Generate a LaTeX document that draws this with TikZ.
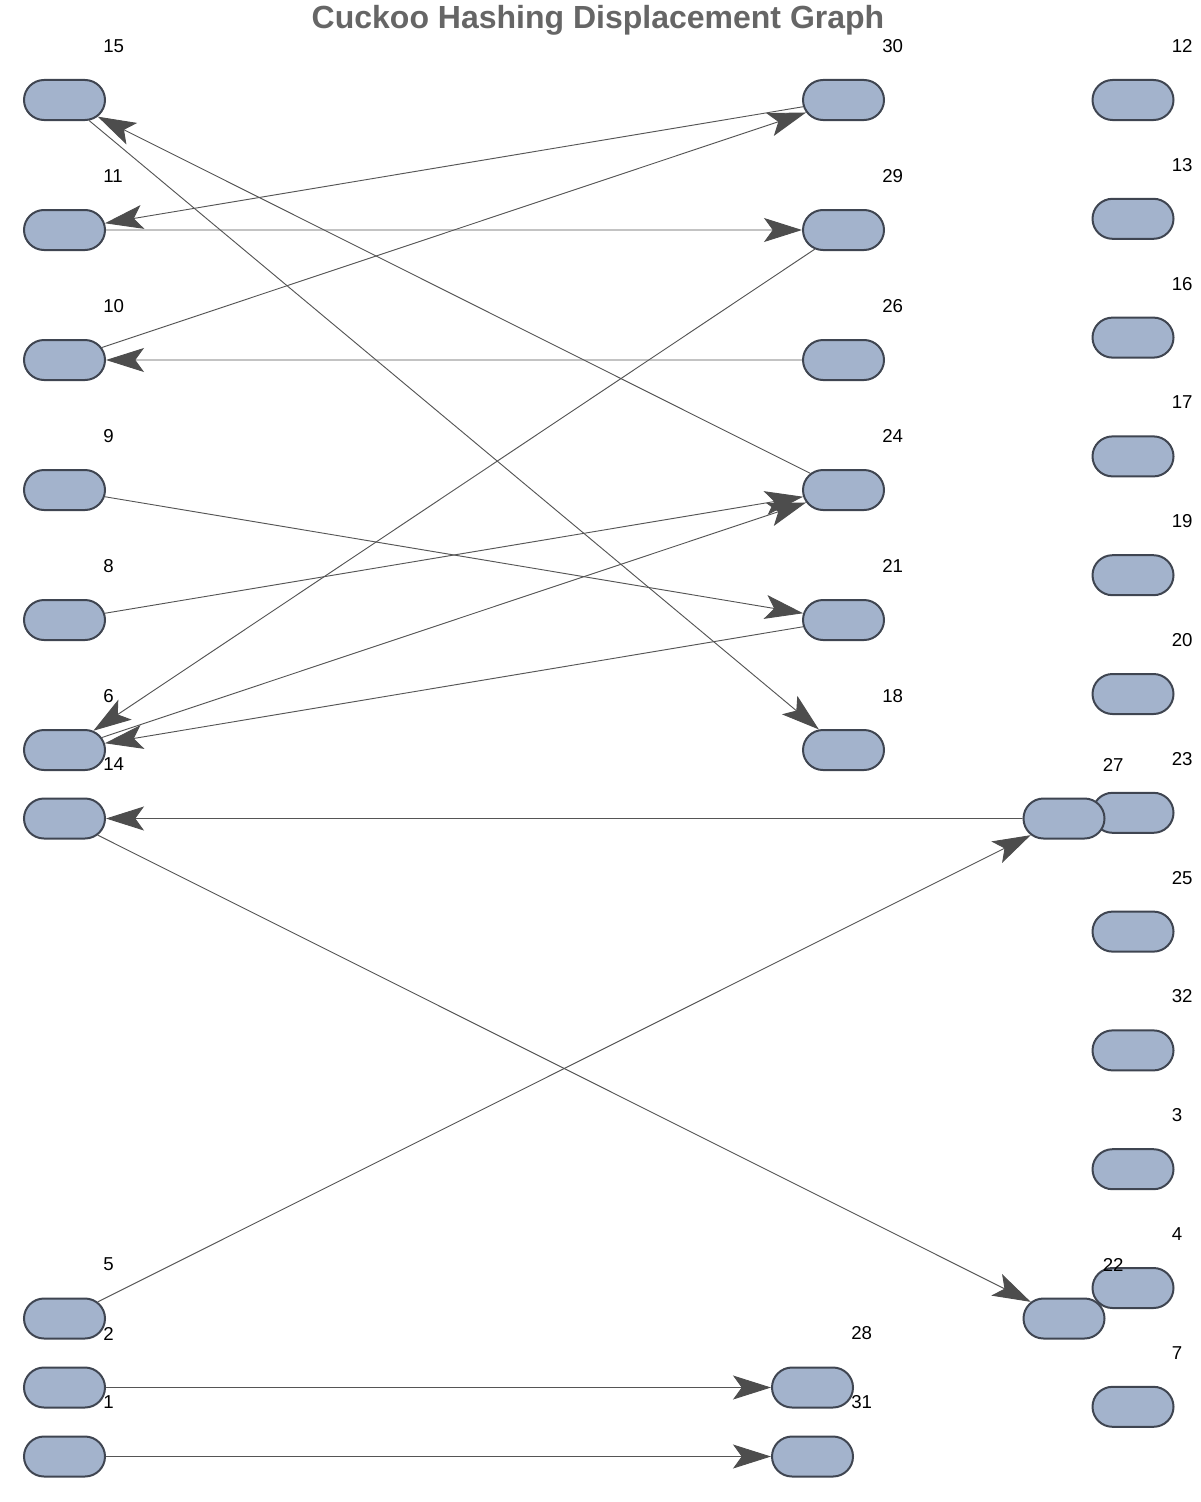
\documentclass[tikz,border=0pt]{standalone}
\usepackage{fontspec}
\setmainfont{Liberation Sans}
\usetikzlibrary{shapes.misc,arrows.meta}
\definecolor{nodefill}{HTML}{A3B3CC}
\definecolor{nodedraw}{HTML}{3F4551}
\definecolor{edgecol}{HTML}{555555}
\definecolor{tipcol}{HTML}{4D4D4D}
\definecolor{titlecol}{HTML}{666666}
\tikzset{
  vtx/.style={rounded rectangle, draw=nodedraw, fill=nodefill, line width=1.5pt,
    minimum width=60.75pt, minimum height=30pt, inner sep=0pt},
  lbl/.style={anchor=west, inner sep=0pt, font=\fontsize{14pt}{16pt}\selectfont},
  edge/.style={draw=edgecol, line width=0.7pt,
    -{Stealth[length=28.5pt, width=18pt, inset=6.5pt, fill=tipcol, color=tipcol]}},
}
\begin{document}
\begin{tikzpicture}[x=0.75pt, y=-0.75pt]
\useasboundingbox (0,0) rectangle (1200,1502);
\node[font=\bfseries\fontsize{24pt}{28pt}\selectfont, text=titlecol] (title) at (598,20) {Cuckoo Hashing Displacement Graph};
\foreach \n/\x/\y in {12/1133/100, 13/1133/218.8, 16/1133/337.6, 17/1133/456.4, 19/1133/575.2,
  20/1133/694, 23/1133/812.8, 25/1133/931.6, 32/1133/1050.4, 3/1133/1169.2, 4/1133/1288, 7/1133/1406.8,
  15/64.5/100, 11/64.5/230, 10/64.5/360, 9/64.5/490, 8/64.5/620, 6/64.5/750, 14/64.5/818.5,
  5/64.5/1318.5, 2/64.5/1387.5, 1/64.5/1456.5,
  30/843.5/100, 29/843.5/230, 26/843.5/360, 24/843.5/490, 21/843.5/620, 18/843.5/750,
  27/1064/818.5, 22/1064/1318.5, 28/812.5/1387.5, 31/812.5/1456.5}
  {\node[vtx] (n\n) at (\x,\y) {};}
\foreach \n/\x/\y in {12/1133/100, 13/1133/218.8, 16/1133/337.6, 17/1133/456.4, 19/1133/575.2,
  20/1133/694, 23/1133/812.8, 25/1133/931.6, 32/1133/1050.4, 3/1133/1169.2, 4/1133/1288, 7/1133/1406.8,
  15/64.5/100, 11/64.5/230, 10/64.5/360, 9/64.5/490, 8/64.5/620, 6/64.5/750, 14/64.5/818.5,
  5/64.5/1318.5, 2/64.5/1387.5, 1/64.5/1456.5,
  30/843.5/100, 29/843.5/230, 26/843.5/360, 24/843.5/490, 21/843.5/620, 18/843.5/750,
  27/1064/818.5, 22/1064/1318.5, 28/812.5/1387.5, 31/812.5/1456.5}
  {\node[lbl] (l\n) at (\x+38.5,\y-54) {\n};}
\foreach \a/\b in {30/11, 10/30, 11/29, 26/10, 15/18, 24/15, 29/6, 9/21, 8/24, 6/24, 21/6,
  27/14, 14/22, 5/27, 2/28, 1/31}
  {\path[edge] (n\a) -- (n\b);}
\end{tikzpicture}
\end{document}
